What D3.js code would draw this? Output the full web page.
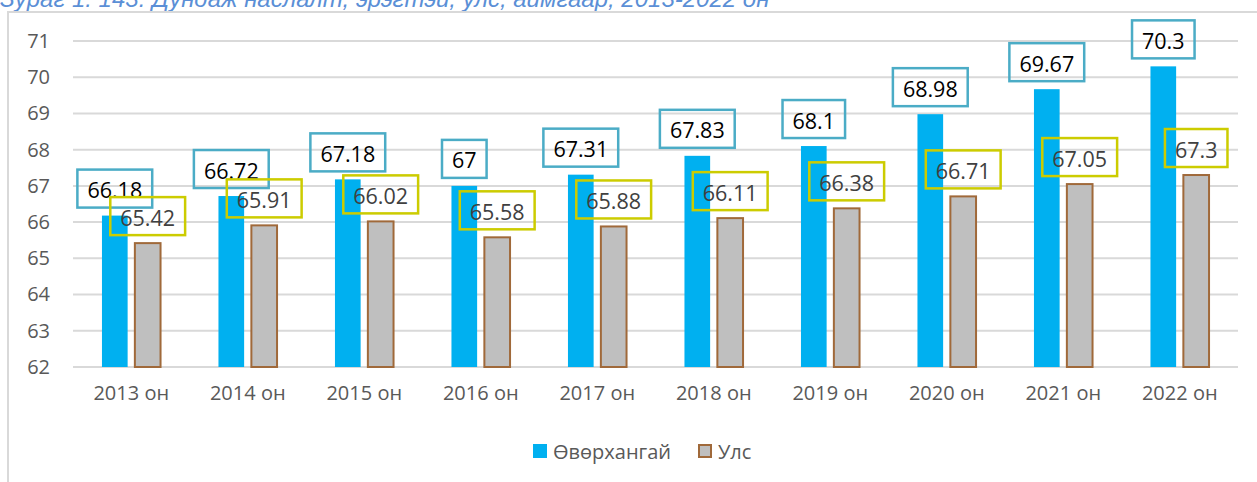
<!DOCTYPE html>
<html>
<head>
<meta charset="utf-8">
<script src="https://cdn.jsdelivr.net/npm/d3@7"></script>
<style>
  body { margin: 0; background: #fff; }
  svg { font-family: "Open Sans", sans-serif; display: block; }
</style>
</head>
<body>
<svg id="chart" width="1257" height="482"></svg>
<script>
// data
const years = ["2013 он", "2014 он", "2015 он", "2016 он", "2017 он", "2018 он", "2019 он", "2020 он", "2021 он", "2022 он"];
const seriesNames = ["Өвөрхангай", "Улс"];
const aimag = [66.18, 66.72, 67.18, 67, 67.31, 67.83, 68.1, 68.98, 69.67, 70.3];
const uls = [65.42, 65.91, 66.02, 65.58, 65.88, 66.11, 66.38, 66.71, 67.05, 67.3];
const yTicks = [62, 63, 64, 65, 66, 67, 68, 69, 70, 71];

const title = "Зураг 1. 143. Дундаж наслалт, эрэгтэй, улс, аймгаар, 2013-2022 он";

// style per series
const fills = ["#00b0f0", "#bfbfbf"];
const strokes = ["none", "#a0693a"];
const boxColors = ["#4bacc6", "#cccc00"];
const labelColors = ["#000", "#404040"];

const svg = d3.select("svg#chart");

// title, cut off at top like the source
svg.append("text")
  .attr("x", 0)
  .attr("y", 7)
  .attr("font-size", 24)
  .attr("font-family", "Liberation Sans, Arial, sans-serif")
  .attr("font-style", "italic")
  .attr("fill", "#5b8fd6")
  .text(title);

// chart frame (only left and top visible)
svg.append("path")
  .attr("d", "M8,482 L8,12 L1257,12")
  .attr("fill", "none")
  .attr("stroke", "#d9d9d9")
  .attr("stroke-width", 2);

const x0 = d3.scaleBand().domain(years).range([73, 1238]);
const x1 = d3.scaleBand()
  .domain(seriesNames)
  .range([0, x0.bandwidth()])
  .paddingInner(0.22)
  .paddingOuter(0.88);
const y = d3.scaleLinear().domain([62, 71]).range([367, 41]);

// gridlines
svg.append("g")
  .selectAll("line")
  .data(yTicks)
  .join("line")
  .attr("x1", 73)
  .attr("x2", 1238)
  .attr("y1", d => y(d))
  .attr("y2", d => y(d))
  .attr("stroke", "#d9d9d9")
  .attr("stroke-width", 2);

// y axis labels
const yAxis = svg.append("g")
  .attr("transform", "translate(73,0)")
  .call(d3.axisLeft(y).tickValues(yTicks).tickSize(0).tickPadding(23));
yAxis.select(".domain").remove();
yAxis.selectAll("text")
  .attr("font-size", 20)
  .attr("font-family", "Open Sans, sans-serif")
  .attr("fill", "#595959");

// x axis labels
const xAxis = svg.append("g")
  .attr("transform", "translate(0,367)")
  .call(d3.axisBottom(x0).tickSize(0).tickPadding(19));
xAxis.select(".domain").remove();
xAxis.selectAll("text")
  .attr("font-size", 20)
  .attr("font-family", "Open Sans, sans-serif")
  .attr("fill", "#595959");

const table = years.map((yr, i) => ({ year: yr, values: [aimag[i], uls[i]] }));

// bars
const groups = svg.append("g")
  .selectAll("g")
  .data(table)
  .join("g")
  .attr("transform", d => `translate(${x0(d.year)},0)`);

groups.selectAll("rect")
  .data(d => d.values.map((v, k) => ({ k, v })))
  .join("rect")
  .attr("x", d => x1(seriesNames[d.k]))
  .attr("y", d => y(d.v))
  .attr("width", x1.bandwidth())
  .attr("height", d => y(62) - y(d.v))
  .attr("fill", d => fills[d.k])
  .attr("stroke", d => strokes[d.k])
  .attr("stroke-width", 2);

// value labels in outlined boxes, drawn after all bars
const labels = svg.append("g");
[0, 1].forEach(k => {
  table.forEach(d => {
    const cx = x0(d.year) + x1(seriesNames[k]) + x1.bandwidth() / 2;
    const top = y(d.values[k]);
    const g = labels.append("g");
    const t = g.append("text")
      .attr("x", cx)
      .attr("y", top - 8 - 18)
      .attr("text-anchor", "middle")
      .attr("dominant-baseline", "central")
      .attr("font-size", 21.5)
      .attr("fill", labelColors[k])
      .text(d.values[k]);
    const w = t.node().getComputedTextLength() + 20;
    g.insert("rect", "text")
      .attr("x", cx - w / 2)
      .attr("y", top - 8 - 38)
      .attr("width", w)
      .attr("height", 38)
      .attr("fill", "none")
      .attr("stroke", boxColors[k])
      .attr("stroke-width", 2.5);
  });
});

// legend
const legendX = [533, 698];
const legend = svg.append("g")
  .selectAll("g")
  .data(seriesNames)
  .join("g")
  .attr("transform", (d, i) => `translate(${legendX[i]},444)`);
legend.append("rect")
  .attr("x", (d, i) => i ? 1 : 0)
  .attr("y", (d, i) => i ? 1 : 0)
  .attr("width", (d, i) => i ? 12 : 14)
  .attr("height", (d, i) => i ? 12 : 14)
  .attr("fill", (d, i) => fills[i])
  .attr("stroke", (d, i) => strokes[i])
  .attr("stroke-width", 2);
legend.append("text")
  .attr("x", 20)
  .attr("y", 7)
  .attr("dominant-baseline", "central")
  .attr("font-size", 20)
  .attr("fill", "#595959")
  .text(d => d);
</script>
</body>
</html>
